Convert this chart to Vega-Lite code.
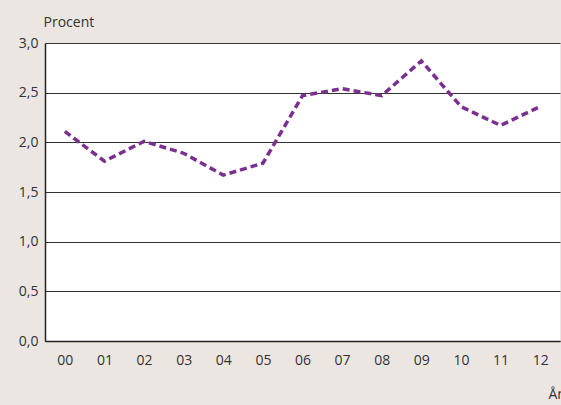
{
  "$schema": "https://vega.github.io/schema/vega-lite/v6.json",
  "width": 515,
  "height": 298,
  "autosize": {"type": "none"},
  "padding": {"left": 45, "top": 43, "right": 1, "bottom": 64},
  "background": "#ebe6e1",
  "config": {
    "view": {"fill": "#ffffff", "stroke": null},
    "font": "Open Sans",
    "axis": {"labelFont": "Open Sans", "titleFont": "Open Sans", "labelColor": "#333333", "titleColor": "#333333", "labelFontSize": 14, "titleFontSize": 14, "titleFontWeight": "normal"}
  },
  "data": {
    "values": [
      {"year": "00", "value": 2.11},
      {"year": "01", "value": 1.81},
      {"year": "02", "value": 2.01},
      {"year": "03", "value": 1.89},
      {"year": "04", "value": 1.67},
      {"year": "05", "value": 1.79},
      {"year": "06", "value": 2.47},
      {"year": "07", "value": 2.54},
      {"year": "08", "value": 2.47},
      {"year": "09", "value": 2.82},
      {"year": "10", "value": 2.36},
      {"year": "11", "value": 2.17},
      {"year": "12", "value": 2.36}
    ]
  },
  "mark": {"type": "line", "color": "#7b2f91", "strokeWidth": 3.5, "strokeDash": [7, 4]},
  "encoding": {
    "x": {
      "field": "year", "type": "ordinal",
      "scale": {"type": "point", "padding": 0.5},
      "axis": {
        "title": "År", "titleAlign": "left", "titleBaseline": "alphabetic", "titleX": 503, "titleY": 57,
        "labelAngle": 0, "labelPadding": 12, "ticks": false, "domain": true, "domainColor": "#222222", "domainWidth": 1.5, "grid": false
      }
    },
    "y": {
      "field": "value", "type": "quantitative",
      "scale": {"domain": [0, 3], "nice": false},
      "axis": {
        "title": "Procent", "titleAngle": 0, "titleAlign": "left", "titleBaseline": "alphabetic", "titleX": -2, "titleY": -17,
        "values": [0, 0.5, 1, 1.5, 2, 2.5, 3],
        "labelExpr": "replace(format(datum.value, '.1f'), '.', ',')",
        "ticks": false, "labelPadding": 7, "domain": true, "domainColor": "#222222", "domainWidth": 1.5,
        "grid": true, "gridColor": "#333333", "gridWidth": 1, "gridOpacity": 1
      }
    }
  }
}
